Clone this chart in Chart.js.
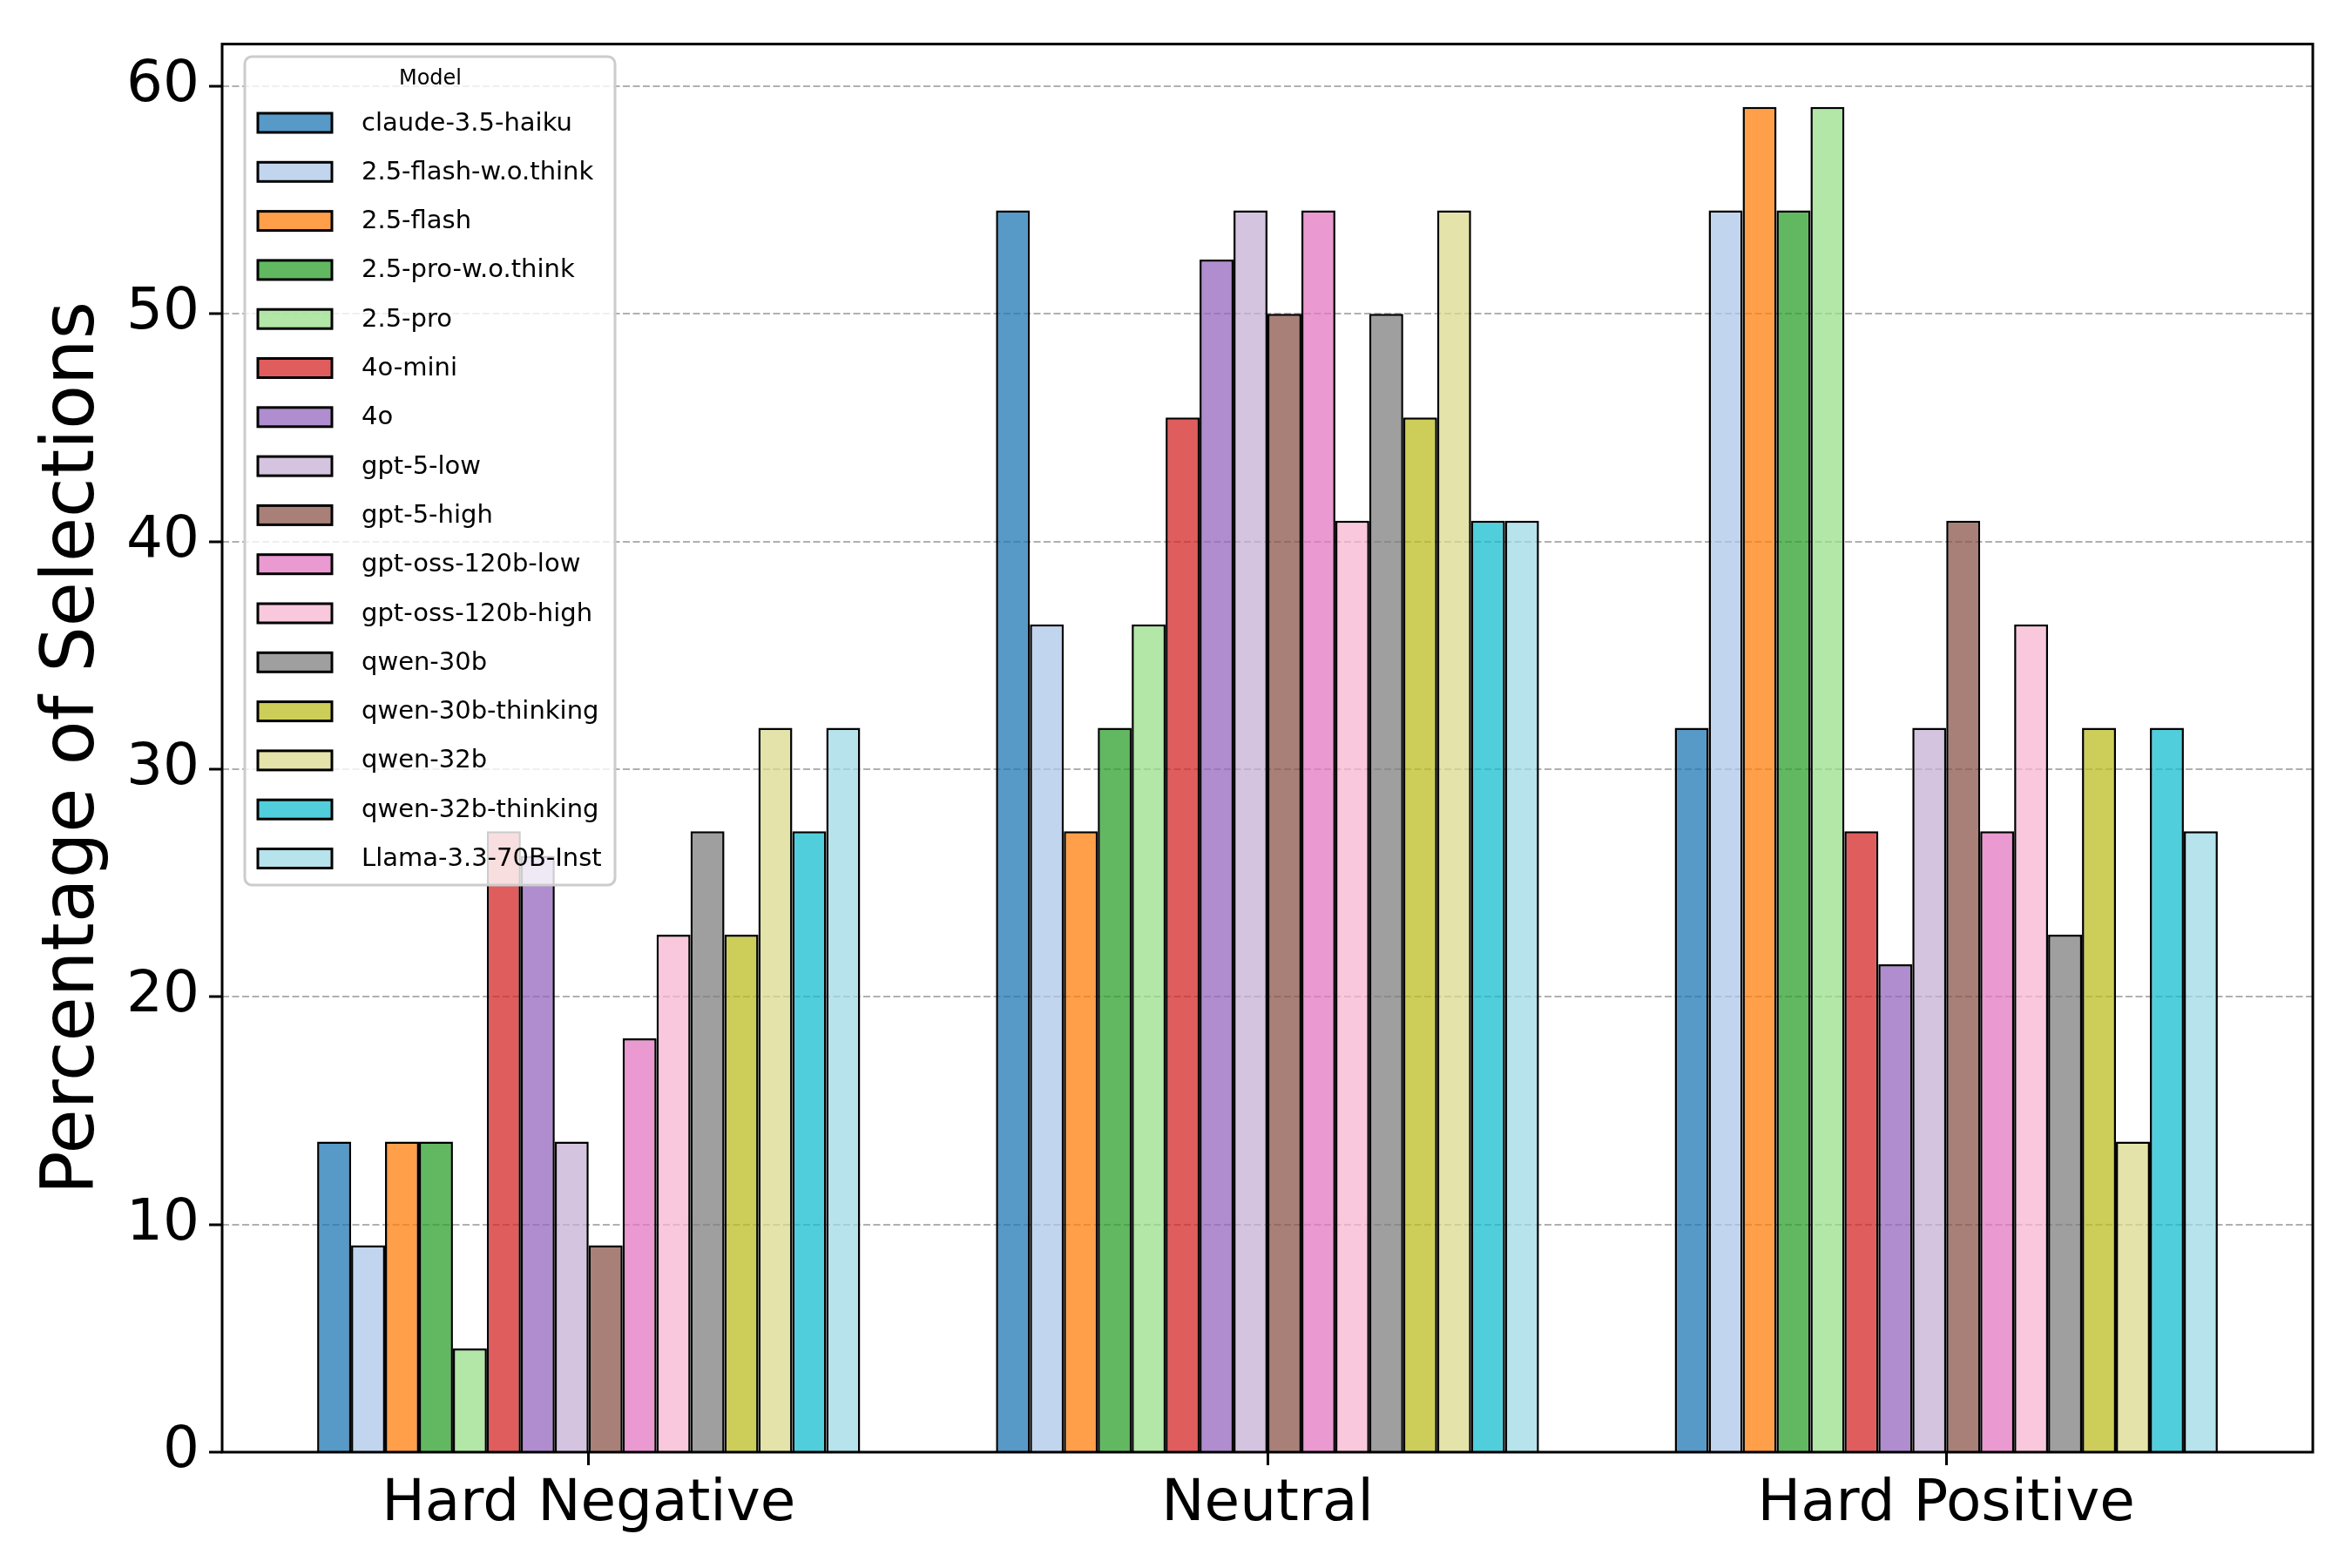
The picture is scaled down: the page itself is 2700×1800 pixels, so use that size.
<!DOCTYPE html>
<html>
<head>
<meta charset="utf-8">
<script src="https://cdn.jsdelivr.net/npm/chart.js@4.4.1/dist/chart.umd.min.js"></script>
<style>
  body { margin: 0; background: #fff; }
  canvas { display: block; }
</style>
</head>
<body>
<canvas id="selectionChart" width="2700" height="1800"></canvas>
<script>
// Data
const categories = ['Hard Negative', 'Neutral', 'Hard Positive'];
const models = [
    'claude-3.5-haiku', '2.5-flash-w.o.think', '2.5-flash', '2.5-pro-w.o.think', '2.5-pro',
    '4o-mini', '4o', 'gpt-5-low', 'gpt-5-high', 'gpt-oss-120b-low', 'gpt-oss-120b-high',
    'qwen-30b', 'qwen-30b-thinking', 'qwen-32b', 'qwen-32b-thinking', 'Llama-3.3-70B-Inst'
];
const hardNegative = [13.64, 9.09, 13.64, 13.64, 4.55, 27.27, 26.19, 13.64, 9.09, 18.18, 22.73, 27.27, 22.73, 31.82, 27.27, 31.82];
const neutral = [54.55, 36.36, 27.27, 31.82, 36.36, 45.45, 52.38, 54.55, 50.0, 54.55, 40.91, 50.0, 45.45, 54.55, 40.91, 40.91];
const hardPositive = [31.82, 54.55, 59.09, 54.55, 59.09, 27.27, 21.43, 31.82, 40.91, 27.27, 36.36, 22.73, 31.82, 13.64, 31.82, 27.27];
const yTicks = [0, 10, 20, 30, 40, 50, 60];

// tab20 picks, drawn with alpha 0.75
const baseColors = [
    '#1f77b4', '#aec7e8', '#ff7f0e', '#2ca02c', '#98df8a', '#d62728', '#9467bd', '#c5b0d5',
    '#8c564b', '#e377c2', '#f7b6d2', '#7f7f7f', '#bcbd22', '#dbdb8d', '#17becf', '#9edae5'
];

function withAlpha(hex, a) {
    const r = parseInt(hex.slice(1, 3), 16);
    const g = parseInt(hex.slice(3, 5), 16);
    const b = parseInt(hex.slice(5, 7), 16);
    return `rgba(${r}, ${g}, ${b}, ${a})`;
}

const FONT = 'DejaVu Sans';

const datasets = models.map((name, i) => ({
    label: name,
    data: [hardNegative[i], neutral[i], hardPositive[i]].map((v, c) => ({ x: c, y: v })),
    backgroundColor: withAlpha(baseColors[i], 0.75),
    borderColor: '#000',
    borderWidth: 2.5,
}));

// Black frame round the plot area
const framePlugin = {
    id: 'frame',
    afterDatasetsDraw(chart) {
        const { ctx, chartArea: a } = chart;
        ctx.save();
        ctx.strokeStyle = '#000';
        ctx.lineWidth = 3;
        ctx.strokeRect(a.left, a.top, a.right - a.left, a.bottom - a.top);
        ctx.restore();
    }
};

// Matplotlib-like legend in the upper left corner
const legendPlugin = {
    id: 'boxLegend',
    afterDraw(chart) {
        const ctx = chart.ctx;
        ctx.save();
        ctx.beginPath();
        ctx.roundRect(281, 65, 425, 951, 8);
        ctx.fillStyle = 'rgba(255, 255, 255, 0.8)';
        ctx.fill();
        ctx.strokeStyle = '#cccccc';
        ctx.lineWidth = 3;
        ctx.stroke();

        ctx.fillStyle = '#000';
        ctx.textAlign = 'center';
        ctx.textBaseline = 'middle';
        ctx.font = `24px "${FONT}"`;
        ctx.fillText('Model', 494, 91);

        ctx.textAlign = 'left';
        ctx.font = `29px "${FONT}"`;
        chart.data.datasets.forEach((ds, i) => {
            const y = 141 + 56.3 * i;
            ctx.fillStyle = ds.backgroundColor;
            ctx.fillRect(296, y - 11, 85, 22);
            ctx.strokeStyle = '#000';
            ctx.lineWidth = 3;
            ctx.strokeRect(296, y - 11, 85, 22);
            ctx.fillStyle = '#000';
            ctx.fillText(ds.label, 415, y + 1);
        });
        ctx.restore();
    }
};

const ctx = document.getElementById('selectionChart').getContext('2d');
new Chart(ctx, {
    type: 'bar',
    data: { datasets: datasets },
    options: {
        responsive: false,
        devicePixelRatio: 1,
        animation: false,
        layout: { padding: { top: 43, right: 45, left: 0, bottom: 0 } },
        datasets: { bar: { categoryPercentage: 0.8, barPercentage: 1.0 } },
        plugins: {
            legend: { display: false },
            tooltip: { enabled: false }
        },
        scales: {
            x: {
                type: 'linear',
                min: -0.54,
                max: 2.54,
                offset: false,
                afterBuildTicks: (scale) => { scale.ticks = categories.map((c, i) => ({ value: i })); },
                afterFit: (scale) => { scale.height = 133; },
                ticks: {
                    callback: (value) => categories[value],
                    color: '#000',
                    font: { family: FONT, size: 66 },
                    padding: 6,
                    autoSkip: false,
                    maxRotation: 0
                },
                grid: {
                    offset: false,
                    drawOnChartArea: false,
                    tickLength: 15,
                    tickWidth: 3,
                    tickColor: '#000'
                },
                border: { display: false }
            },
            y: {
                min: 0,
                max: 61.85,
                afterBuildTicks: (scale) => { scale.ticks = yTicks.map(v => ({ value: v })); },
                afterFit: (scale) => { scale.width = 255; },
                ticks: {
                    color: '#000',
                    font: { family: FONT, size: 66 },
                    padding: 11
                },
                grid: {
                    color: '#b0b0b0',
                    lineWidth: 2,
                    tickLength: 15,
                    tickWidth: 3,
                    tickColor: '#000',
                    tickBorderDash: []
                },
                border: { display: false, dash: [8, 3.5] },
                title: {
                    display: true,
                    text: 'Percentage of Selections',
                    color: '#000',
                    font: { family: FONT, size: 83 },
                    padding: { top: 36, bottom: 0 }
                }
            }
        }
    },
    plugins: [framePlugin, legendPlugin]
});
</script>
</body>
</html>
